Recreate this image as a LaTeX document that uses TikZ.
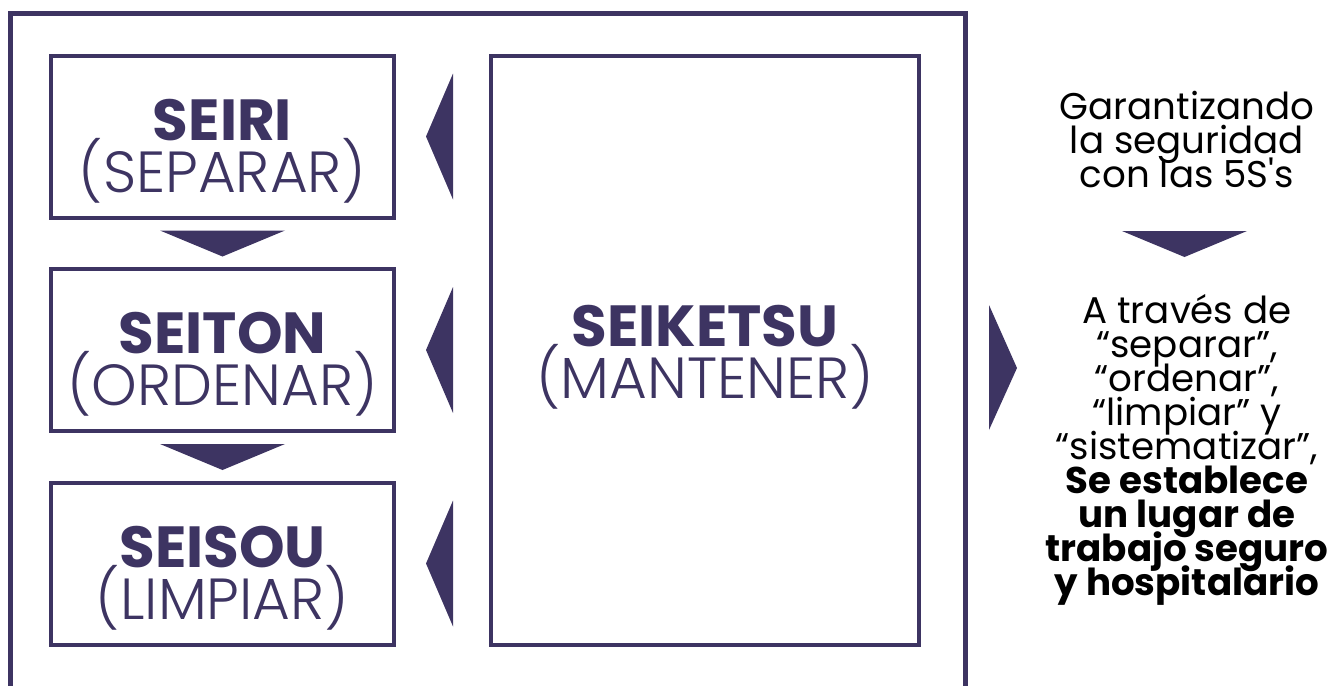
\documentclass[tikz,border=0pt]{standalone}
\usepackage{fontspec}
\setmainfont{Poppins}
\newfontfamily\thinfont{Poppins Light}
\usetikzlibrary{calc,positioning}
\definecolor{ink}{RGB}{61,52,98}
\newcommand\tightlines{\lineskiplimit=-100pt\relax}

\tikzset{
    stage/.style={draw=ink, line width=2pt, outer sep=0pt, inner sep=0pt,
        minimum width=171.5pt, minimum height=81pt, align=center, text=ink,
        text height=60pt, text depth=4.5pt,
        font=\fontsize{29}{26}\selectfont\tightlines},
    pointer/.style={fill=ink},
    note/.style={align=center, font=\fontsize{18.6}{17}\selectfont\tightlines}
}

\begin{document}
\begin{tikzpicture}[x=0.5pt, y=-0.5pt]
    \useasboundingbox (0,0) rectangle (1341,686);

    % Frame, open at the bottom
    \draw[ink, line width=2.5pt] (10.5,686) -- (10.5,13.5) -- (965.5,13.5) -- (965.5,686);
    \coordinate (frameedge) at (965.5,368);

    % The first three S's
    \node[stage] (seiri)  at (222.5,136.5) {\textbf{SEIRI}\\{\thinfont(SEPARAR)}};
    \node[stage] (seiton) at (222.5,350)   {\textbf{SEITON}\\{\thinfont(ORDENAR)}};
    \node[stage] (seisou) at (222.5,563.5) {\textbf{SEISOU}\\{\thinfont(LIMPIAR)}};

    % Keeping them up
    \node[stage, minimum width=214pt, minimum height=294.5pt, text height=52pt]
        (seiketsu) at (705,350.5) {\textbf{SEIKETSU}\\{\thinfont(MANTENER)}};

    % Down arrows between the steps
    \foreach \a/\b in {seiri/seiton, seiton/seisou} {
        \fill[pointer] ($(\a.south)+(-62.5,13)$) -- ($(\a.south)+(62.5,13)$) -- ($(\a.south)+(0,39)$) -- cycle;
    }

    % Arrows from SEIKETSU back to each step
    \foreach \s in {seiri, seiton, seisou} {
        \coordinate (p) at (seiketsu.west |- \s.center);
        \fill[pointer] ($(p)+(-38,-63)$) -- ($(p)+(-38,63)$) -- ($(p)+(-65,0)$) -- cycle;
    }

    % Outcome on the right
    \node[note] (goal) at (1187,140) {Garantizando\\la seguridad\\con las 5S\textquotesingle s};
    \node[note] (result) at (1187,450) {A través de\\“separar”,\\“ordenar”,\\“limpiar” y\\“sistematizar”,\\
        \textbf{Se establece}\\\textbf{un lugar de}\\\textbf{trabajo seguro}\\\textbf{y hospitalario}};

    \fill[pointer] ($(goal)+(-65,91)$) -- ($(goal)+(60,91)$) -- ($(goal)+(-2.5,117)$) -- cycle;
    \fill[pointer] ($(frameedge)+(23.5,-63)$) -- ($(frameedge)+(23.5,62)$) -- ($(frameedge)+(51.5,0)$) -- cycle;
\end{tikzpicture}
\end{document}
